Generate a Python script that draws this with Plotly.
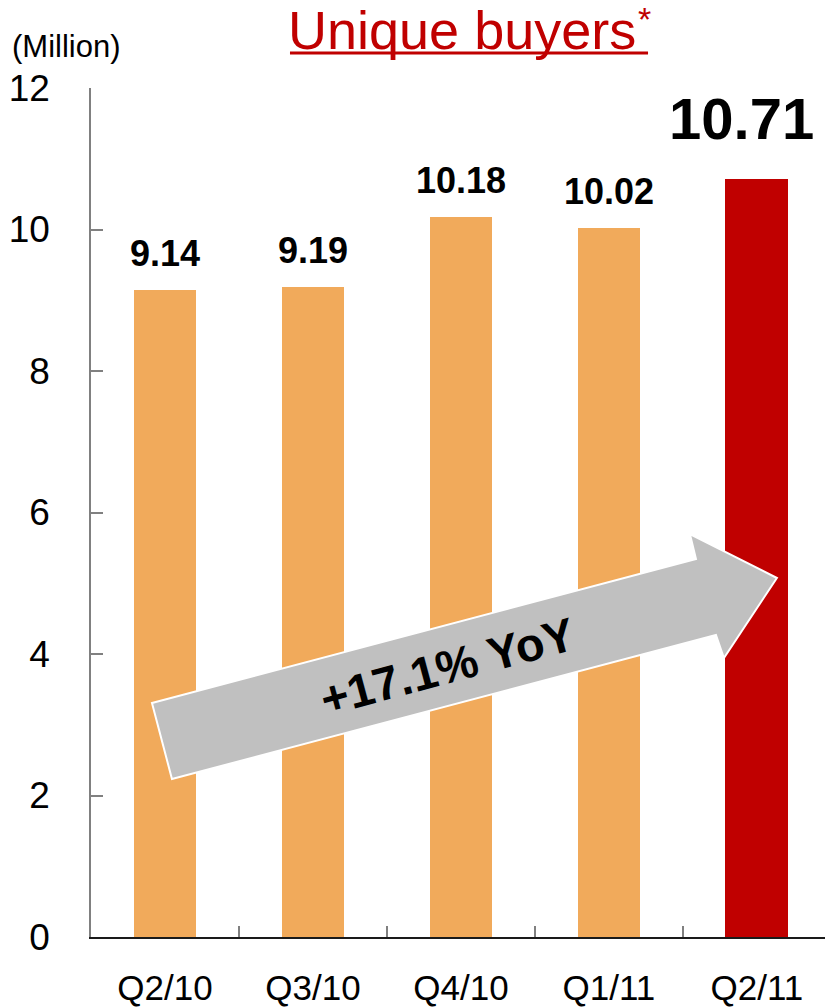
import plotly.graph_objects as go

# Quarterly unique buyers, in millions
quarters = ["Q2/10", "Q3/10", "Q4/10", "Q1/11", "Q2/11"]
buyers = [9.14, 9.19, 10.18, 10.02, 10.71]
y_ticks = [0, 2, 4, 6, 8, 10, 12]
yoy_label = "+17.1% YoY"

FONT = "Liberation Sans, Arial, Helvetica, sans-serif"
ORANGE = "#F1AA5B"
RED = "#C00000"

x_pos = list(range(len(quarters)))
bar_colors = [ORANGE] * (len(buyers) - 1) + [RED]

fig = go.Figure()
fig.add_trace(go.Bar(
    x=x_pos, y=buyers, width=0.425,
    marker=dict(color=bar_colors, line=dict(width=0)),
    hoverinfo="skip",
))

# value labels above each bar; the latest quarter is emphasised
annotations = []
for i, v in enumerate(buyers):
    last = i == len(buyers) - 1
    annotations.append(dict(
        x=x_pos[i], y=v, xref="x", yref="y",
        text=f"<b>{v:.2f}</b>", showarrow=False,
        yanchor="bottom", yshift=26 if last else 14, xshift=-15 if last else 0,
        font=dict(family=FONT, size=58 if last else 36, color="black"),
    ))

# unit label and title (the footnote asterisk is placed on its own)
PAGE_TOP = 1 + 88 / 849
annotations.append(dict(
    x=-0.110, y=1.0483, xref="paper", yref="paper", xanchor="left", yanchor="middle",
    text="(Million)", showarrow=False, font=dict(family=FONT, size=31, color="black"),
))
annotations.append(dict(
    x=0.2690, y=PAGE_TOP, xref="paper", yref="paper", xanchor="left", yanchor="top",
    text="Unique buyers", showarrow=False, borderpad=0, borderwidth=0,
    font=dict(family=FONT, size=54, color=RED),
))
annotations.append(dict(
    x=0.7452, y=PAGE_TOP, xref="paper", yref="paper", xanchor="left", yanchor="top",
    text="*", showarrow=False, borderpad=0, borderwidth=0,
    font=dict(family=FONT, size=34, color=RED),
))

# growth arrow label
annotations.append(dict(
    x=1.91, y=3.83, xref="x", yref="y", text=f"<b>{yoy_label}</b>",
    showarrow=False, textangle=-15, xanchor="center", yanchor="middle",
    font=dict(family=FONT, size=47, color="black"),
))

# block arrow drawn in data coordinates
arrow_pts = [(0.047, 2.233), (-0.088, 3.307), (3.588, 5.343), (3.547, 5.696),
             (4.135, 5.074), (3.777, 3.943), (3.723, 4.269)]
arrow_path = "M " + " L ".join(f"{x},{y}" for x, y in arrow_pts) + " Z"

shapes = [
    dict(type="path", path=arrow_path, xref="x", yref="y", layer="above",
         fillcolor="#C0C0C0", line=dict(color="white", width=2)),
    # title underline
    dict(type="line", xref="paper", yref="paper", x0=0.2711, x1=0.7589,
         y0=1.0412, y1=1.0412, line=dict(color=RED, width=3)),
]

fig.update_layout(
    width=825, height=1007,
    margin=dict(l=91, r=0, t=88, b=70, autoexpand=False),
    paper_bgcolor="white", plot_bgcolor="white",
    showlegend=False, bargap=0,
    annotations=annotations, shapes=shapes,
    font=dict(family=FONT, color="black"),
)

fig.update_xaxes(
    range=[-0.5, 4.46], tickvals=x_pos, ticktext=quarters, automargin=False,
    ticks="", showline=True, linecolor="#1a1a1a", linewidth=2,
    showgrid=False, zeroline=False, ticklabelstandoff=19,
    tickfont=dict(family=FONT, size=35, color="black"),
    minor=dict(tickvals=[0.5, 1.5, 2.5, 3.5], ticks="inside", ticklen=11,
               tickwidth=1.5, tickcolor="#808080", showgrid=False),
)
fig.update_yaxes(
    range=[0, 12], tickvals=y_ticks, ticks="inside", ticklen=12,
    tickwidth=1.5, tickcolor="#808080", automargin=False,
    showline=True, linecolor="#808080", linewidth=1.5,
    showgrid=False, zeroline=False, ticklabelstandoff=32,
    tickfont=dict(family=FONT, size=37, color="black"),
)

fig.write_html("out.html")
